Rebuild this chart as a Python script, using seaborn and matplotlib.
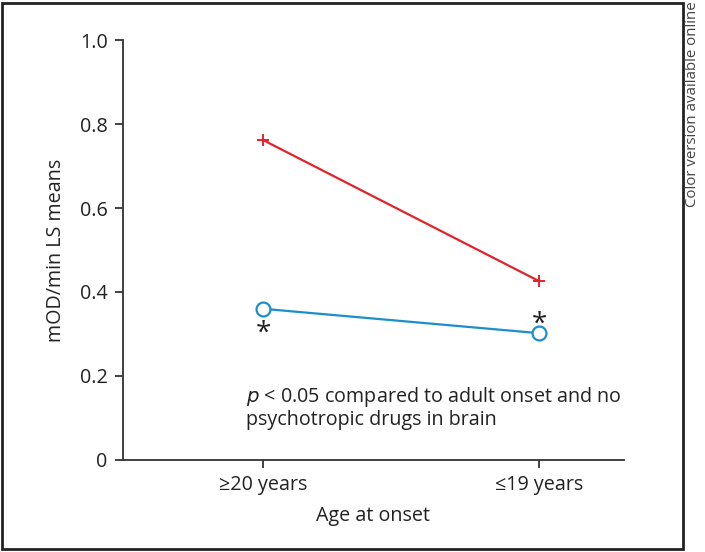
import pandas as pd
import matplotlib.pyplot as plt
import seaborn as sns
from matplotlib.patches import Rectangle

# LS means
onset = ['≥20 years', '≤19 years']
drugs_in_brain = [0.762, 0.426]
no_drugs = [0.360, 0.302]

df = pd.DataFrame({
    'onset': onset * 2,
    'value': drugs_in_brain + no_drugs,
    'group': ['drugs'] * 2 + ['none'] * 2,
})

sns.set_style('ticks')
plt.rcParams['font.family'] = ['Open Sans', 'DejaVu Sans']

fig = plt.figure(figsize=(7.05, 5.52), dpi=100)
ax = fig.add_axes([0.1745, 0.1667, 0.7105, 0.7608])

red = '#e2232b'
blue = '#1b8fc9'
fs = 14.2
sns.lineplot(data=df[df.group == 'drugs'], x='onset', y='value', ax=ax,
             color=red, lw=1.6, marker='+', markersize=9, mew=1.4,
             markeredgecolor=red)
sns.lineplot(data=df[df.group == 'none'], x='onset', y='value', ax=ax,
             color=blue, lw=1.6, marker='o', markersize=10, mew=1.6,
             markerfacecolor='white', markeredgecolor=blue)

# significance stars
ax.text(0, 0.300, '*', ha='center', va='center', fontsize=20, color='#222')
ax.text(1, 0.323, '*', ha='center', va='center', fontsize=20, color='#222')

ax.set_xlim(-0.507, 1.308)
ax.set_ylim(0, 1.0)
ax.set_yticks([0, 0.2, 0.4, 0.6, 0.8, 1.0])
ax.set_yticklabels(['0', '0.2', '0.4', '0.6', '0.8', '1.0'])
ax.set_xlabel('Age at onset', fontsize=fs, color='#222', labelpad=8)
ax.set_ylabel('mOD/min LS means', fontsize=fs, color='#222', labelpad=10)
ax.tick_params(labelsize=fs, colors='#222', length=6, width=1.2, pad=5)
for s in ['top', 'right']:
    ax.spines[s].set_visible(False)
for s in ['left', 'bottom']:
    ax.spines[s].set_linewidth(1.3)
    ax.spines[s].set_color('#333')

ax.text(-0.06, 0.125, '$\\it{p}$ < 0.05 compared to adult onset and no\npsychotropic drugs in brain',
        fontsize=fs, color='#222', ha='left', va='center', linespacing=1.05)

# figure frame and side note
fig.add_artist(Rectangle((2 / 705, 3 / 552), 681 / 705, 546 / 552, transform=fig.transFigure,
                         fill=False, edgecolor='#222', lw=2))
fig.text(693 / 705, 0.997, 'Color version available online', rotation=90,
         ha='center', va='top', fontsize=10.8, color='#444')

fig.savefig('out.png', dpi=100)
